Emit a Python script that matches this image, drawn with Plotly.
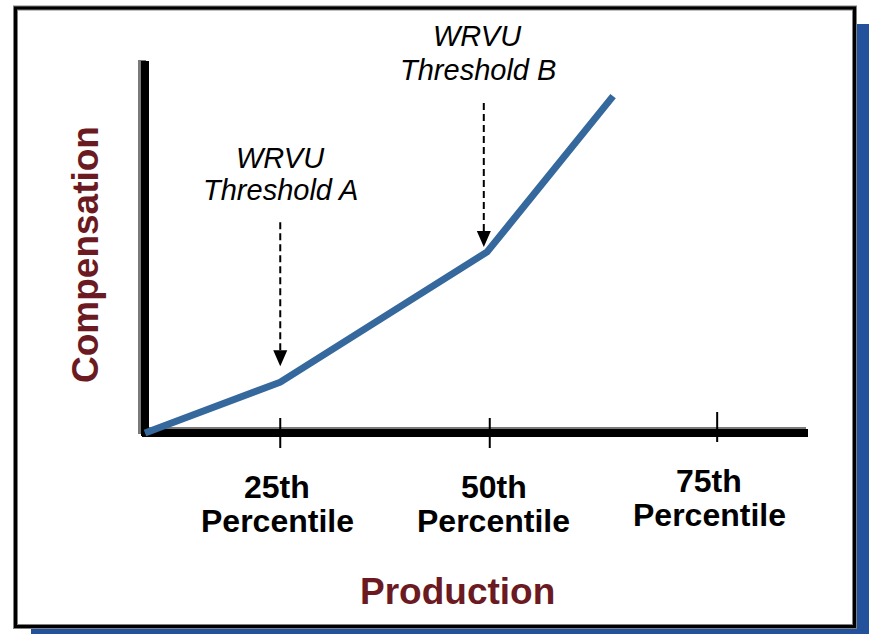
import plotly.graph_objects as go

# ---- data -----------------------------------------------------------------
# Production measured along the axis (0 = origin, 100 = axis end)
production = [0, 20.4, 51.6, 70.6]
compensation = [0, 13.7, 48.8, 90.8]

tick_positions = [20.4, 52.0, 86.3]
tick_top = ["25th", "50th", "75th"]
tick_bottom = ["Percentile", "Percentile", "Percentile"]

threshold_x = [20.4, 51.1]
threshold_names = ["Threshold A", "Threshold B"]
threshold_tag = "WRVU"

# ---- canvas geometry ---------------------------------------------------------
W, H = 869, 634
ORIGIN_PX = (145, 433)
AXIS_END_PX = (808, 62)
sx = (AXIS_END_PX[0] - ORIGIN_PX[0]) / 100.0
sy = (ORIGIN_PX[1] - AXIS_END_PX[1]) / 100.0
x_range = [-ORIGIN_PX[0] / sx, (W - ORIGIN_PX[0]) / sx]
y_range = [-(H - ORIGIN_PX[1]) / sy, ORIGIN_PX[1] / sy]


def px_x(dx):
    return dx / sx


def px_y(dy):
    return dy / sy


def paper(pxx, pxy):
    return pxx / W, 1 - pxy / H


def curve_at(xv):
    for i in range(len(production) - 1):
        if production[i] <= xv <= production[i + 1]:
            t = (xv - production[i]) / (production[i + 1] - production[i])
            return compensation[i] + t * (compensation[i + 1] - compensation[i])
    return compensation[-1]


FONT = "Liberation Sans, Arial, sans-serif"
MAROON = "#6B1A22"
LINE_BLUE = "#35689C"
SHADOW_BLUE = "#23519B"

fig = go.Figure()

# compensation curve
fig.add_trace(go.Scatter(
    x=production, y=compensation, mode="lines",
    line=dict(color=LINE_BLUE, width=7),
    hoverinfo="skip", showlegend=False, cliponaxis=False,
))

shapes = []

# dashed threshold arrows: gap above the curve, shaft length, head size (px)
arrow_gap = [16, 7]
SHAFT = 128
HEAD_W, HEAD_H = 14, 16
for tx, gap in zip(threshold_x, arrow_gap):
    tip = curve_at(tx) + px_y(gap)
    base = tip + px_y(HEAD_H)
    top = base + px_y(SHAFT)
    fig.add_trace(go.Scatter(
        x=[tx, tx], y=[top, base], mode="lines",
        line=dict(color="black", width=2, dash="7px,4px"),
        hoverinfo="skip", showlegend=False, cliponaxis=False,
    ))
    hw = px_x(HEAD_W / 2)
    shapes.append(dict(type="path",
                       path=f"M {tx - hw},{base} L {tx + hw},{base} L {tx},{tip} Z",
                       fillcolor="black", line=dict(width=0), layer="above"))

# drop shadow and frame
x0, y0 = paper(31, 24)
x1, y1 = paper(869, 634)
shapes.append(dict(type="rect", xref="paper", yref="paper", x0=x0, y0=y1, x1=x1, y1=y0,
                   fillcolor=SHADOW_BLUE, line=dict(width=0), layer="below"))
x0, y0 = paper(15.5, 8)
x1, y1 = paper(854.5, 626.5)
shapes.append(dict(type="rect", xref="paper", yref="paper", x0=x0, y0=y1, x1=x1, y1=y0,
                   fillcolor="white", line=dict(color="#808080", width=5), layer="below"))
shapes.append(dict(type="rect", xref="paper", yref="paper", x0=x0, y0=y1, x1=x1, y1=y0,
                   fillcolor="rgba(0,0,0,0)", line=dict(color="black", width=3), layer="below"))

# axes with grey offset shadow
shapes.append(dict(type="line", x0=-px_x(3), y0=-px_y(1), x1=-px_x(3), y1=100 + px_y(2),
                   line=dict(color="#7a7a7a", width=8), layer="below"))
shapes.append(dict(type="line", x0=-px_x(3), y0=px_y(2), x1=100 - px_x(2), y1=px_y(2),
                   line=dict(color="#7a7a7a", width=8), layer="below"))
shapes.append(dict(type="line", x0=0, y0=-px_y(3), x1=0, y1=100 + px_y(1),
                   line=dict(color="black", width=8), layer="below"))
shapes.append(dict(type="line", x0=-px_x(3), y0=0, x1=100, y1=0,
                   line=dict(color="black", width=8), layer="below"))

# tick marks crossing the production axis
lift = [0, 0, 6]
for tx, lf in zip(tick_positions, lift):
    shapes.append(dict(type="line", x0=tx, x1=tx,
                       y0=-px_y(15) + px_y(lf), y1=px_y(15) + px_y(lf),
                       line=dict(color="black", width=2), layer="above"))

annotations = []
label_shift = [-3, 4, -8]
for tx, top_txt, bot_txt, lf, sh in zip(tick_positions, tick_top, tick_bottom, lift, label_shift):
    for row, txt in ((487, top_txt), (521, bot_txt)):
        annotations.append(dict(x=tx + px_x(sh), y=-px_y(row - ORIGIN_PX[1] - lf), text=txt,
                                showarrow=False, xanchor="center", yanchor="middle",
                                font=dict(family=FONT, size=32, color="black", weight="bold")))

label_rows = [(158, 190), (36, 70)]
name_shift = [0, -6]
for tx, name, (r1, r2), sh in zip(threshold_x, threshold_names, label_rows, name_shift):
    for row, txt in ((r1, threshold_tag), (r2, name)):
        annotations.append(dict(x=tx + px_x(sh), y=px_y(ORIGIN_PX[1] - row), text=txt,
                                showarrow=False, xanchor="center", yanchor="middle",
                                font=dict(family=FONT, size=29, color="black", style="italic")))

# axis titles
ax, ay = paper(457, 591)
annotations.append(dict(xref="paper", yref="paper", x=ax, y=ay, text="Production",
                        showarrow=False, xanchor="center", yanchor="middle",
                        font=dict(family=FONT, size=37, color=MAROON, weight="bold")))
ax, ay = paper(86, 255)
annotations.append(dict(xref="paper", yref="paper", x=ax, y=ay, text="Compensation",
                        showarrow=False, xanchor="center", yanchor="middle", textangle=-90,
                        font=dict(family=FONT, size=37, color=MAROON, weight="bold")))

fig.update_layout(
    width=W, height=H,
    margin=dict(l=0, r=0, t=0, b=0),
    paper_bgcolor="white", plot_bgcolor="rgba(0,0,0,0)",
    xaxis=dict(range=x_range, visible=False, fixedrange=True),
    yaxis=dict(range=y_range, visible=False, fixedrange=True),
    shapes=shapes, annotations=annotations,
    showlegend=False,
)

fig.write_html("out.html", config={"displayModeBar": False})
